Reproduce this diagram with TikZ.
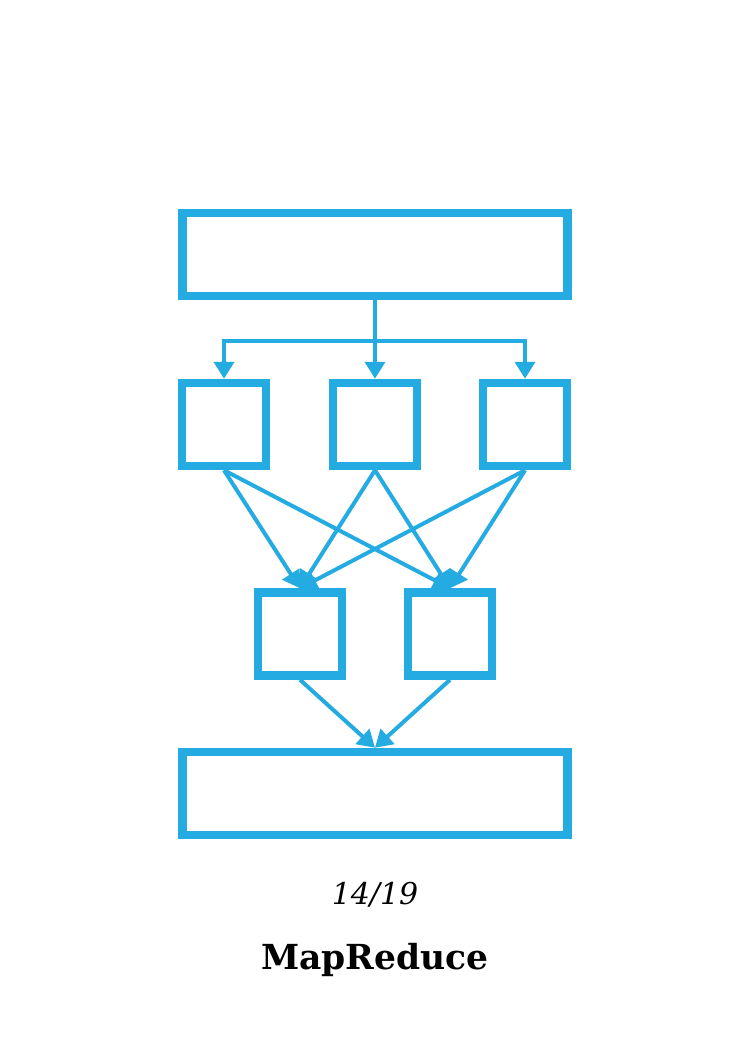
\documentclass[tikz,border=0pt]{standalone}
\usepackage{fontspec}
\setmainfont{DejaVu Serif}
\usetikzlibrary{arrows.meta}
\definecolor{mrblue}{HTML}{24ABE2}
\begin{document}
\begin{tikzpicture}[x=1pt,y=-1pt,
  box/.style={draw=mrblue,line width=8.5pt,rectangle,inner sep=0pt},
  wide/.style={box,minimum width=385pt,minimum height=83pt},
  small/.style={box,minimum width=84pt,minimum height=83pt},
  flow/.style={draw=mrblue,line width=4pt,-{Triangle[width=20pt,length=17pt]}},
  link/.style={draw=mrblue,line width=4pt}]
\useasboundingbox (0,0) rectangle (750,1050);
% input, map, reduce and output stages
\node[wide]  (input)  at (375,254.5) {};
\node[small] (map1)   at (224,424.5) {};
\node[small] (map2)   at (375,424.5) {};
\node[small] (map3)   at (525,424.5) {};
\node[small] (red1)   at (300,634) {};
\node[small] (red2)   at (450,634) {};
\node[wide]  (output) at (375,793.5) {};
% split of the input onto the mappers
\coordinate (split) at (375,341);
\draw[link] (input.south) -- (split);
\draw[flow] (split) -| (map1.north);
\draw[flow] (split) -- (map2.north);
\draw[flow] (split) -| (map3.north);
% shuffle: every mapper feeds every reducer
\foreach \m in {map1,map2,map3}{
  \foreach \r in {red1,red2}{
    \draw[flow] (\m.south) -- (\r.north);
  }
}
% reducers into the output
\draw[flow] (red1.south) -- (output.north);
\draw[flow] (red2.south) -- (output.north);
% captions
\node (page) at (375,895) {\fontsize{30}{36}\selectfont\itshape 14/19};
\node (title) at (375,960) {\fontsize{34.5}{40}\selectfont\bfseries MapReduce};
\end{tikzpicture}
\end{document}
